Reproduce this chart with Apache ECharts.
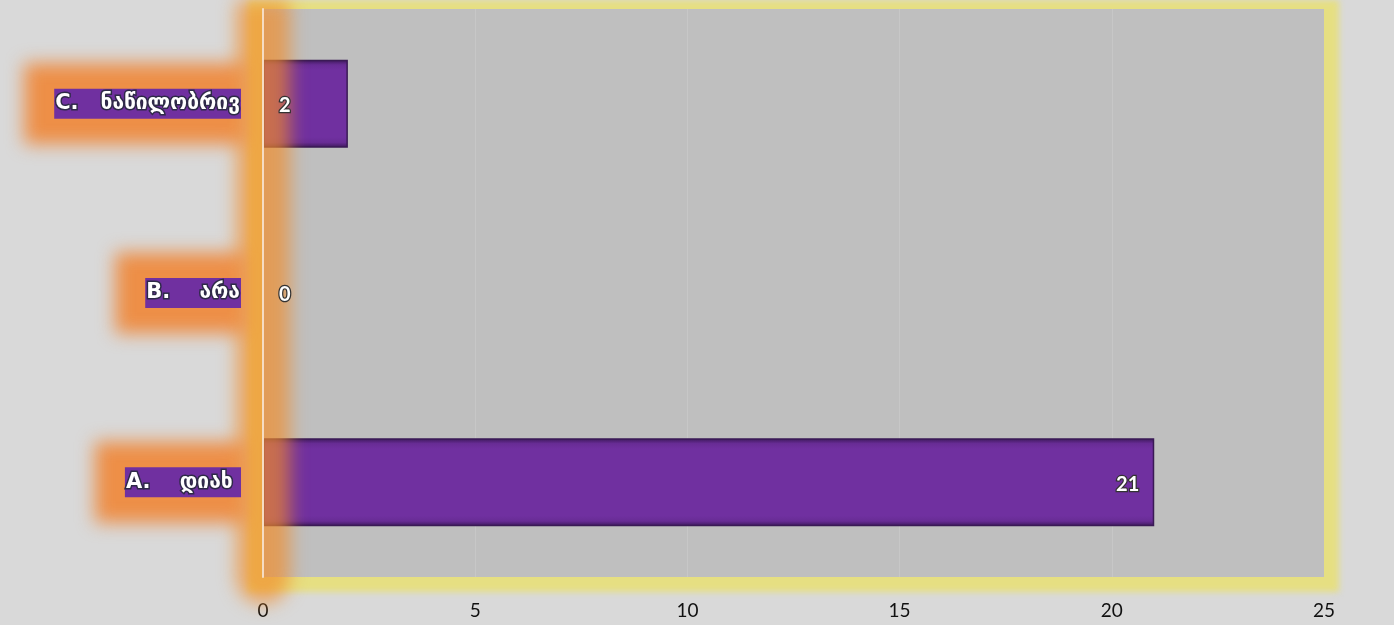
<!DOCTYPE html>
<html>
<head>
<meta charset="utf-8">
<script src="https://cdn.jsdelivr.net/npm/echarts@6/dist/echarts.min.js"></script>
<style>
  html, body { margin: 0; padding: 0; background: #d9d9d9; }
  #stage { position: relative; width: 1394px; height: 625px; overflow: hidden; }
  .layer { position: absolute; left: 0; top: 0; width: 1394px; height: 625px; }
  #frame { filter: blur(3px); }
  #glow { filter: blur(9px); }
</style>
</head>
<body>
<div id="stage">
  <div id="frame" class="layer"></div>
  <div id="plot" class="layer"></div>
  <div id="glow" class="layer"></div>
  <div id="front" class="layer"></div>
</div>
<script>
// Survey answers, bottom to top
const categories = ['A.    დიახ ', 'B.    არა', 'C.   ნაწილობრივ'];
const responses = [21, 0, 2];

// Value axis ticks
const xMin = 0;
const xMax = 25;
const xStep = 5;

const PURPLE = '#7030a0';
const YELLOW = '#e6df82';

// Shared coordinate system so every layer lines up
function skeleton() {
  return {
    animation: false,
    backgroundColor: 'transparent',
    grid: { left: 263, right: 70, top: 9, bottom: 48, show: false, containLabel: false },
    xAxis: {
      type: 'value', min: xMin, max: xMax, interval: xStep,
      axisLine: { show: false }, axisTick: { show: false },
      axisLabel: { show: false }, splitLine: { show: false }
    },
    yAxis: {
      type: 'category', data: categories,
      axisLine: { show: false }, axisTick: { show: false },
      axisLabel: { show: false }, splitLine: { show: false }
    },
    series: []
  };
}

const labelFont = {
  fontFamily: 'DejaVu Sans', fontWeight: 'bold', fontSize: 21
};

// 1. Yellow frame behind the plot area
const frameOpt = skeleton();
Object.assign(frameOpt.grid, {
  show: true, backgroundColor: YELLOW, borderColor: YELLOW, borderWidth: 30
});

// 2. Plot background, grid lines, bars, tick labels
const plotOpt = skeleton();
Object.assign(plotOpt.grid, { show: true, backgroundColor: '#bfbfbf', borderWidth: 0 });
plotOpt.xAxis.splitLine = {
  show: true,
  lineStyle: { width: 1, color: ['transparent', '#c7c7c7', '#c7c7c7', '#c7c7c7', '#c7c7c7', 'transparent'] }
};
plotOpt.xAxis.axisLabel = {
  show: true, margin: 24, color: '#111', fontSize: 19, fontFamily: 'Lato'
};
plotOpt.series.push({
  type: 'bar',
  data: responses,
  barWidth: '46.5%',
  itemStyle: {
    borderColor: '#3a1a55',
    borderWidth: 1.5,
    color: {
      type: 'linear', x: 0, y: 0, x2: 0, y2: 1,
      colorStops: [
        { offset: 0, color: '#3b1858' },
        { offset: 0.06, color: '#682c95' },
        { offset: 0.12, color: PURPLE },
        { offset: 0.88, color: PURPLE },
        { offset: 0.94, color: '#682c95' },
        { offset: 1, color: '#3b1858' }
      ]
    }
  }
});

// 3. Soft orange glow around the category axis and its labels
const glowOpt = skeleton();
glowOpt.yAxis.axisLine = {
  show: true, lineStyle: { color: 'rgba(242,140,40,0.68)', width: 54 }
};
glowOpt.yAxis.axisLabel = Object.assign({
  show: true, margin: 22, color: 'transparent',
  backgroundColor: 'rgba(240,132,50,0.88)', padding: [30, 16]
}, labelFont);

// 4. Sharp axis line, category labels and value labels on top
const frontOpt = skeleton();
frontOpt.yAxis.axisLine = {
  show: true, lineStyle: { color: '#f6dcc2', width: 2 }
};
frontOpt.yAxis.axisLabel = Object.assign({
  show: true, margin: 22, color: '#ffffff',
  textBorderColor: '#2e2a48', textBorderWidth: 3,
  backgroundColor: PURPLE, padding: [5, 1, 4, 1]
}, labelFont);
frontOpt.series.push({
  type: 'bar',
  barWidth: '46.5%',
  itemStyle: { color: 'transparent' },
  data: responses.map(v => ({
    value: v,
    label: {
      show: true,
      position: v >= xStep * 2 ? 'insideRight' : 'insideLeft',
      distance: v >= xStep * 2 ? 15 : 16,
      color: '#ffffff', fontFamily: 'Lato', fontWeight: 'bold', fontSize: 20,
      textBorderColor: '#333333', textBorderWidth: 2.5,
      offset: [0, 2]
    }
  }))
});

[['frame', frameOpt], ['plot', plotOpt], ['glow', glowOpt], ['front', frontOpt]].forEach(([id, opt]) => {
  echarts.init(document.getElementById(id), null, { renderer: 'canvas' }).setOption(opt);
});
</script>
</body>
</html>
